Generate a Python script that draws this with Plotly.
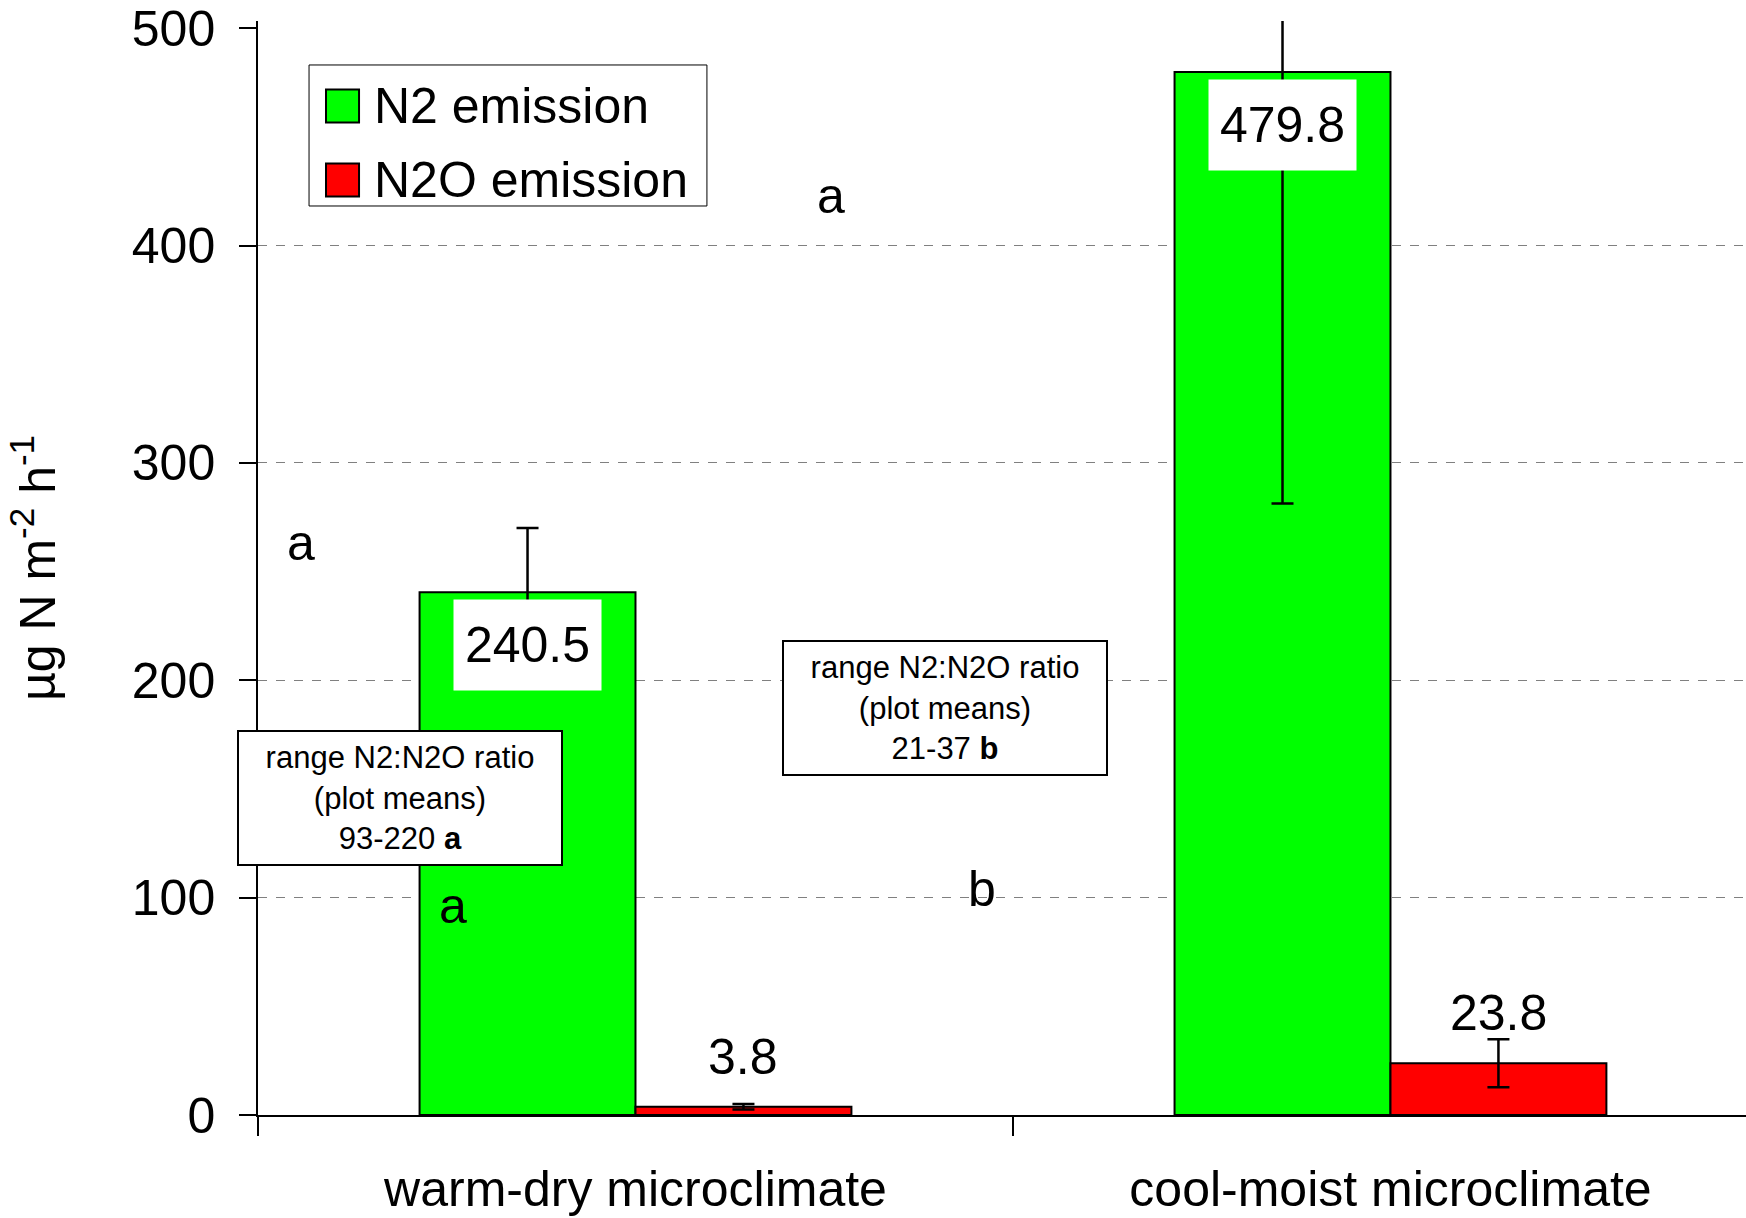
import plotly.graph_objects as go

# Mean emission per microclimate (µg N m-2 h-1) with standard errors
categories = ["warm-dry microclimate", "cool-moist microclimate"]
series_names = ["N2 emission", "N2O emission"]
n2_mean = [240.5, 479.8]
n2_err = [29.5, 198.5]
n2o_mean = [3.8, 23.8]
n2o_err = [1.3, 11.0]

ratio_notes = [
    "range N2:N2O ratio<br>(plot means)<br>93-220 <b>a</b>",
    "range N2:N2O ratio<br>(plot means)<br>21-37 <b>b</b>",
]
sig_letters = ["a", "a", "a", "b"]

y_ticks = [0, 100, 200, 300, 400, 500]
grid_vals = [100, 200, 300, 400]

GREEN = "#00FF00"
RED = "#FF0000"
FONT = "Liberation Sans, Arial, sans-serif"
BIG = 50

BARGAP = 0.428
half_group = (1 - BARGAP) / 4  # offset of each bar centre from category centre

fig = go.Figure()

fig.add_trace(go.Bar(
    x=categories, y=n2_mean, name=series_names[0],
    marker=dict(color=GREEN, line=dict(color="black", width=2)),
    error_y=dict(type="data", array=n2_err, visible=True,
                 color="black", thickness=2.5, width=11),
    showlegend=False,
))
fig.add_trace(go.Bar(
    x=categories, y=n2o_mean, name=series_names[1],
    marker=dict(color=RED, line=dict(color="black", width=2)),
    error_y=dict(type="data", array=n2o_err, visible=True,
                 color="black", thickness=2.5, width=11),
    showlegend=False,
))

# invisible trace on a second y axis that only carries the dashed grid
fig.add_trace(go.Scatter(x=categories, y=[None, None], yaxis="y2",
                         showlegend=False, hoverinfo="skip"))

annotations = []

# value labels
for i, v in enumerate(n2_mean):
    annotations.append(dict(
        x=i - half_group, y=v, xref="x", yref="y",
        text=f"{v:.1f}", showarrow=False, yanchor="top", xanchor="center",
        yshift=-7, width=127, height=70, borderpad=10, bgcolor="white",
        font=dict(family=FONT, size=BIG, color="black"),
    ))
for i, v in enumerate(n2o_mean):
    annotations.append(dict(
        x=i + half_group, y=v, xref="x", yref="y",
        text=f"{v:.1f}", showarrow=False, yanchor="bottom", xanchor="center",
        yshift=20, font=dict(family=FONT, size=BIG, color="black"),
    ))

# significance letters
letter_pos = [(-0.4428, 255.1), (0.2585, 414.7), (-0.2421, 88.1), (0.4592, 95.5)]
for txt, (lx, ly) in zip(sig_letters, letter_pos):
    annotations.append(dict(
        x=lx, y=ly, xref="x", yref="y", text=txt, showarrow=False,
        xanchor="center", yanchor="bottom", yshift=-12,
        font=dict(family=FONT, size=BIG, color="black"),
    ))

# N2:N2O ratio boxes
note_pos = [(-0.3123, 145.8), (0.4106, 187.2)]
for txt, (nx, ny) in zip(ratio_notes, note_pos):
    annotations.append(dict(
        x=nx, y=ny, xref="x", yref="y", text=txt, showarrow=False,
        xanchor="center", yanchor="middle", width=320, height=130,
        bgcolor="white", bordercolor="black", borderwidth=2, borderpad=1,
        font=dict(family=FONT, size=31, color="black"),
    ))

# legend drawn as a framed box with coloured squares
shapes = [
    dict(type="rect", xref="paper", yref="paper", x0=0.0343, x1=0.3017,
         y0=0.8309, y1=0.9598, line=dict(color="black", width=1),
         fillcolor="white", layer="above"),
]
legend_rows = [(0.9223, GREEN), (0.8547, RED)]
for (ry, col), name in zip(legend_rows, series_names):
    shapes.append(dict(type="rect", xref="paper", yref="paper",
                       x0=0.0457, x1=0.0679, y0=ry - 0.0151, y1=ry + 0.0151,
                       line=dict(color="black", width=2), fillcolor=col,
                       layer="above"))
    annotations.append(dict(
        x=0.0768, y=ry, xref="paper", yref="paper", text=name,
        showarrow=False, xanchor="left", yanchor="middle",
        font=dict(family=FONT, size=BIG, color="black"),
    ))

y_range = [0, 503.3]

fig.update_layout(
    width=1746, height=1218,
    margin=dict(l=258, r=0, t=21, b=103, autoexpand=False),
    paper_bgcolor="white", plot_bgcolor="white",
    barmode="group", bargap=BARGAP, bargroupgap=0,
    font=dict(family=FONT, size=BIG, color="black"),
    showlegend=False,
    annotations=annotations,
    shapes=shapes,
    xaxis=dict(
        type="category", range=[-0.5, 1.4709],
        showline=True, linecolor="black", linewidth=1.5,
        ticks="outside", tickson="boundaries", ticklen=19, tickwidth=1.5,
        tickcolor="black", showgrid=False, zeroline=False,
        tickfont=dict(family=FONT, size=BIG, color="black"),
        ticklabelstandoff=29,
    ),
    yaxis=dict(
        range=y_range, tickvals=y_ticks,
        showline=True, linecolor="black", linewidth=1.5,
        ticks="outside", ticklen=17, tickwidth=1.5, tickcolor="black",
        showgrid=False, zeroline=False,
        tickfont=dict(family=FONT, size=BIG, color="black"),
        ticklabelstandoff=14,
        title=dict(text="µg N m<sup>-2</sup> h<sup>-1</sup>",
                   font=dict(family=FONT, size=BIG, color="black"),
                   standoff=60),
    ),
    yaxis2=dict(
        range=y_range, tickvals=grid_vals, overlaying="y",
        showticklabels=False, ticks="", showline=False, zeroline=False,
        showgrid=True, gridcolor="#808080", gridwidth=1, griddash="dash",
    ),
)

fig.write_html("out.html")
